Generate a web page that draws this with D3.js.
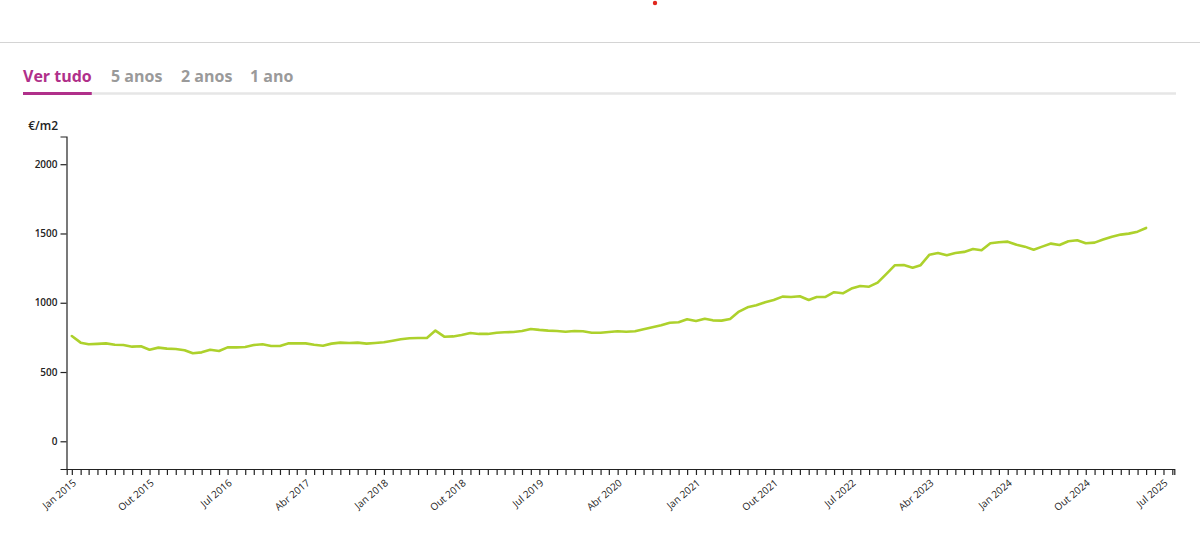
<!DOCTYPE html>
<html>
<head>
<meta charset="utf-8">
<script src="https://cdn.jsdelivr.net/npm/d3@7"></script>
<style>
  html, body { margin: 0; padding: 0; background: #fff; }
  svg { display: block; font-family: "Open Sans", "Noto Sans", sans-serif; }
</style>
</head>
<body>
<svg id="chart" width="1200" height="539"></svg>
<script>
// ---------- DATA ----------
const tabs = ["Ver tudo", "5 anos", "2 anos", "1 ano"];
const unitLabel = "€/m2";

const months = [
  "2015-01","2015-02","2015-03","2015-04","2015-05","2015-06","2015-07","2015-08","2015-09","2015-10","2015-11","2015-12",
  "2016-01","2016-02","2016-03","2016-04","2016-05","2016-06","2016-07","2016-08","2016-09","2016-10","2016-11","2016-12",
  "2017-01","2017-02","2017-03","2017-04","2017-05","2017-06","2017-07","2017-08","2017-09","2017-10","2017-11","2017-12",
  "2018-01","2018-02","2018-03","2018-04","2018-05","2018-06","2018-07","2018-08","2018-09","2018-10","2018-11","2018-12",
  "2019-01","2019-02","2019-03","2019-04","2019-05","2019-06","2019-07","2019-08","2019-09","2019-10","2019-11","2019-12",
  "2020-01","2020-02","2020-03","2020-04","2020-05","2020-06","2020-07","2020-08","2020-09","2020-10","2020-11","2020-12",
  "2021-01","2021-02","2021-03","2021-04","2021-05","2021-06","2021-07","2021-08","2021-09","2021-10","2021-11","2021-12",
  "2022-01","2022-02","2022-03","2022-04","2022-05","2022-06","2022-07","2022-08","2022-09","2022-10","2022-11","2022-12",
  "2023-01","2023-02","2023-03","2023-04","2023-05","2023-06","2023-07","2023-08","2023-09","2023-10","2023-11","2023-12",
  "2024-01","2024-02","2024-03","2024-04","2024-05","2024-06","2024-07","2024-08","2024-09","2024-10","2024-11","2024-12",
  "2025-01","2025-02","2025-03","2025-04","2025-05"
];

const pricePerM2 = [
  760, 712, 700, 703, 707, 697, 695, 683, 686, 661, 676, 669,
  666, 657, 635, 642, 661, 652, 678, 678, 681, 695, 700, 688,
  688, 707, 707, 707, 697, 690, 705, 712, 710, 712, 705, 710,
  715, 726, 736, 744, 746, 746, 799, 755, 757, 767, 782, 775,
  775, 784, 787, 789, 796, 811, 804, 799, 796, 791, 796, 794,
  784, 784, 789, 794, 791, 794, 809, 823, 837, 856, 859, 881,
  868, 885, 873, 871, 883, 936, 967, 982, 1004, 1020, 1044, 1042,
  1047, 1020, 1041, 1042, 1076, 1068, 1102, 1121, 1116, 1145, 1208, 1271,
  1273, 1253, 1271, 1347, 1359, 1343, 1359, 1367, 1388, 1379, 1430, 1437,
  1441, 1419, 1405, 1383, 1405, 1427, 1417, 1444, 1451, 1430, 1434, 1456,
  1477, 1492, 1499, 1513, 1540
];

const yTicks = [0, 500, 1000, 1500, 2000];
const yDomain = [-200, 2200];
const xDomain = ["2014-12-14", "2025-08-08"];

const xTickLabels = [
  {m: "2015-01", label: "Jan 2015"}, {m: "2015-10", label: "Out 2015"},
  {m: "2016-07", label: "Jul 2016"}, {m: "2017-04", label: "Abr 2017"},
  {m: "2018-01", label: "Jan 2018"}, {m: "2018-10", label: "Out 2018"},
  {m: "2019-07", label: "Jul 2019"}, {m: "2020-04", label: "Abr 2020"},
  {m: "2021-01", label: "Jan 2021"}, {m: "2021-10", label: "Out 2021"},
  {m: "2022-07", label: "Jul 2022"}, {m: "2023-04", label: "Abr 2023"},
  {m: "2024-01", label: "Jan 2024"}, {m: "2024-10", label: "Out 2024"},
  {m: "2025-07", label: "Jul 2025"}
];

// ---------- DRAW ----------
const svg = d3.select("#chart");
const parseM = d3.utcParse("%Y-%m");
const parseD = d3.utcParse("%Y-%m-%d");
const data = months.map((m, i) => ({date: parseM(m), value: pricePerM2[i]}));

// top decorations
svg.append("circle").attr("cx", 655).attr("cy", 3).attr("r", 2.2).attr("fill", "#e0261d");
svg.append("line").attr("x1", 0).attr("x2", 1200).attr("y1", 42.5).attr("y2", 42.5)
  .attr("stroke", "#d4d4d4").attr("stroke-width", 1);

// tabs
const tabX = [23, 111, 181, 250];
svg.append("line").attr("x1", 23).attr("x2", 1176).attr("y1", 93.5).attr("y2", 93.5)
  .attr("stroke", "#e6e6e6").attr("stroke-width", 2.5);
const tabG = svg.append("g");
tabs.forEach((t, i) => {
  const txt = tabG.append("text")
    .attr("x", tabX[i]).attr("y", 82)
    .attr("font-size", 16).attr("font-weight", 700)
    .attr("fill", i === 0 ? "#b0308a" : "#9a9a9a")
    .text(t);
  if (i === 0) {
    const w = txt.node().getComputedTextLength();
    svg.append("line").attr("x1", tabX[i]).attr("x2", tabX[i] + w)
      .attr("y1", 93.5).attr("y2", 93.5)
      .attr("stroke", "#b0308a").attr("stroke-width", 3);
  }
});

// scales
const x = d3.scaleUtc().domain(xDomain.map(parseD)).range([66.7, 1174.3]);
const y = d3.scaleLinear().domain(yDomain).range([469, 136.5]);

// y axis
const yAxis = svg.append("g").attr("transform", "translate(66.5,0)")
  .call(d3.axisLeft(y).tickValues(yTicks).tickSize(6).tickSizeOuter(6).tickPadding(3).tickFormat(d3.format("d")));
yAxis.selectAll("path, line").attr("stroke", "#222").attr("stroke-width", 1.2);
yAxis.selectAll("text").attr("font-size", 10).attr("font-weight", 600).attr("fill", "#222")
  .attr("font-family", "Open Sans, sans-serif");

svg.append("text").attr("x", 58).attr("y", 130).attr("text-anchor", "end")
  .attr("font-size", 12).attr("font-weight", 600).attr("fill", "#222").text(unitLabel);

// x axis
const labelMap = new Map(xTickLabels.map(d => [d.m, d.label]));
const fmtM = d3.utcFormat("%Y-%m");
const xAxis = svg.append("g").attr("transform", "translate(0,469)")
  .call(d3.axisBottom(x).ticks(d3.utcMonth.every(1)).tickSize(6).tickSizeOuter(6)
    .tickFormat(d => labelMap.get(fmtM(d)) || ""));
xAxis.selectAll("path, line").attr("stroke", "#222").attr("stroke-width", 1.2);
xAxis.selectAll("text")
  .attr("y", 0).attr("dy", 0)
  .attr("text-anchor", "end")
  .attr("transform", "translate(4.5,15) rotate(-40)")
  .attr("font-size", 10).attr("fill", "#222")
  .attr("font-family", "Open Sans, sans-serif");

// line
const line = d3.line().x(d => x(d.date)).y(d => y(d.value)).curve(d3.curveLinear);
svg.append("path").datum(data)
  .attr("d", line)
  .attr("fill", "none")
  .attr("stroke", "#add12c")
  .attr("stroke-width", 2.6)
  .attr("stroke-linejoin", "round")
  .attr("stroke-linecap", "round");
</script>
</body>
</html>
